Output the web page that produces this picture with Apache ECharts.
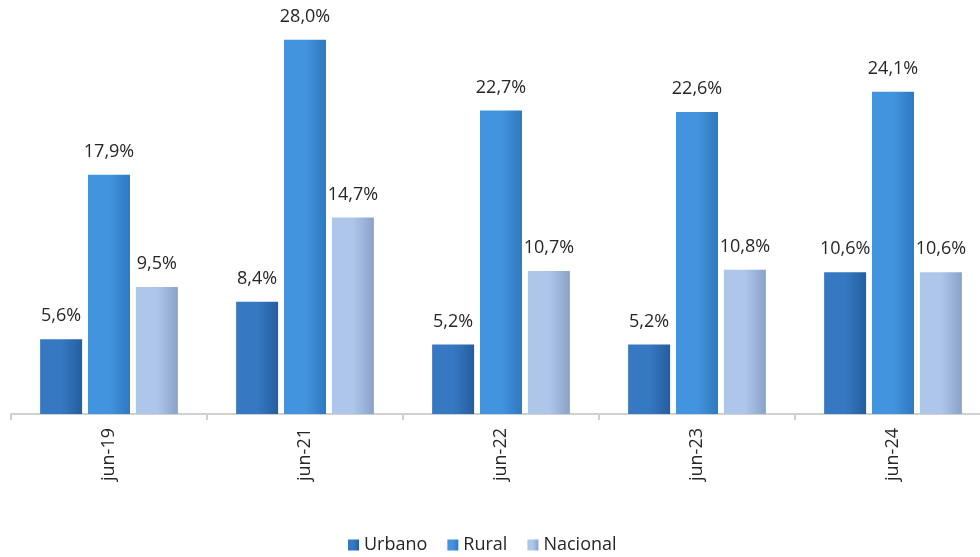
<!DOCTYPE html>
<html>
<head>
<meta charset="utf-8">
<script src="https://cdn.jsdelivr.net/npm/echarts@6/dist/echarts.min.js"></script>
<style>
	html, body { margin: 0; padding: 0; background: #fff; }
	#main { width: 980px; height: 557px; }
</style>
</head>
<body>
<div id="main"></div>
<script>
	// datos
	const categorias = ['jun-19', 'jun-21', 'jun-22', 'jun-23', 'jun-24'];
	const urbano = [5.6, 8.4, 5.2, 5.2, 10.6];
	const rural = [17.9, 28.0, 22.7, 22.6, 24.1];
	const nacional = [9.5, 14.7, 10.7, 10.8, 10.6];

	function grad(edge, mid) { // sombreado horizontal de la barra
		return new echarts.graphic.LinearGradient(0, 0, 1, 0, [
			{ offset: 0, color: mid },
			{ offset: 0.5, color: mid },
			{ offset: 1, color: edge }
		]);
	}

	function serie(nombre, datos, edge, mid) {
		return {
			name: nombre,
			type: 'bar',
			barWidth: 42,
			barGap: '14%',
			data: datos,
			itemStyle: { color: grad(edge, mid) },
			label: {
				show: true,
				position: 'top',
				distance: 14,
				fontSize: 18,
				color: '#262626',
				fontFamily: 'Open Sans',
				formatter: p => p.value.toFixed(1).replace('.', ',') + '%'
			}
		};
	}

	const chart = echarts.init(document.getElementById('main'));
	chart.setOption({
		animation: false,
		grid: { left: 11, right: -11, top: 13, bottom: 143, outerBoundsMode: 'none', containLabel: false },
		legend: {
			bottom: -2,
			left: 343,
			itemWidth: 11,
			itemHeight: 11,
			itemGap: 20,
			icon: 'rect',
			textStyle: { fontSize: 18, color: '#262626', fontFamily: 'Open Sans' },
			data: ['Urbano', 'Rural', 'Nacional']
		},
		xAxis: {
			type: 'category',
			data: categorias,
			axisLine: { lineStyle: { color: '#d0d0d0', width: 2 } },
			axisTick: { show: true, length: 6, lineStyle: { color: '#d0d0d0', width: 2 } },
			axisLabel: {
				rotate: 90,
				margin: 14,
				fontSize: 18,
				color: '#262626',
				fontFamily: 'Open Sans'
			}
		},
		yAxis: {
			type: 'value',
			min: 0,
			max: 30,
			show: false
		},
		series: [
			serie('Urbano', urbano, '#255e9f', '#3679c2'),
			serie('Rural', rural, '#2f79c0', '#4394de'),
			serie('Nacional', nacional, '#8aa2c8', '#adc6ea')
		]
	});
</script>
</body>
</html>
